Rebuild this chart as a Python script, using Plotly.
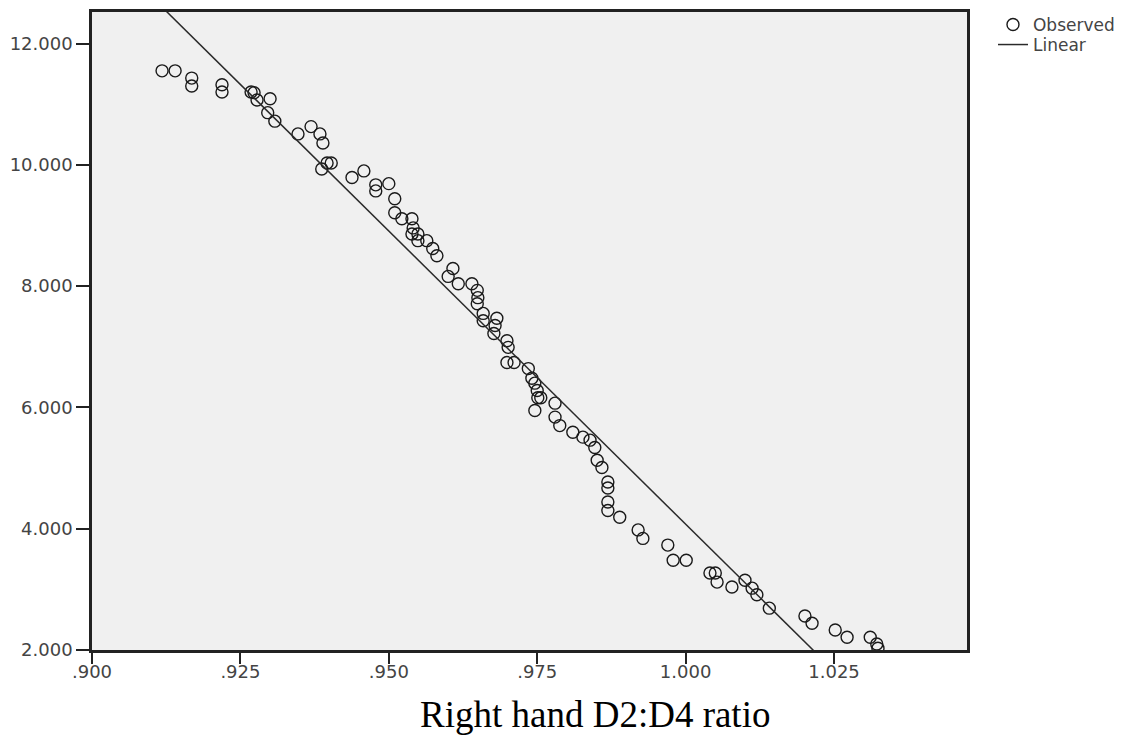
import plotly.graph_objects as go

# Observed points (Right hand D2:D4 ratio, response)
ratio = [0.9118, 0.9140, 0.9168, 0.9168, 0.9219, 0.9219, 0.9268, 0.9273, 0.9278, 0.9300,
         0.9296, 0.9308, 0.9347, 0.9369, 0.9384, 0.9389, 0.9396, 0.9387, 0.9403, 0.9438,
         0.9458, 0.9478, 0.9478, 0.9500, 0.9510, 0.9510, 0.9522, 0.9539, 0.9541, 0.9539,
         0.9549, 0.9549, 0.9564, 0.9574, 0.9581, 0.9608, 0.9600, 0.9617, 0.9640, 0.9649,
         0.9650, 0.9649, 0.9659, 0.9659, 0.9682, 0.9679, 0.9677, 0.9699, 0.9701, 0.9699,
         0.9711, 0.9735, 0.9741, 0.9746, 0.9750, 0.9751, 0.9746, 0.9756, 0.9780, 0.9780,
         0.9788, 0.9810, 0.9827, 0.9839, 0.9847, 0.9851, 0.9859, 0.9869, 0.9869, 0.9869,
         0.9869, 0.9889, 0.9920, 0.9928, 0.9970, 0.9979, 1.0001, 1.0041, 1.0050, 1.0053,
         1.0078, 1.0100, 1.0112, 1.0120, 1.0141, 1.0201, 1.0213, 1.0252, 1.0272, 1.0311,
         1.0322, 1.0324]
observed = [11.55, 11.55, 11.43, 11.30, 11.32, 11.20, 11.20, 11.19, 11.07, 11.09,
            10.86, 10.72, 10.51, 10.63, 10.51, 10.36, 10.03, 9.93, 10.03, 9.79,
            9.90, 9.67, 9.57, 9.69, 9.44, 9.21, 9.11, 9.11, 8.96, 8.86,
            8.86, 8.75, 8.75, 8.62, 8.50, 8.29, 8.16, 8.04, 8.04, 7.93,
            7.81, 7.71, 7.55, 7.43, 7.47, 7.35, 7.22, 7.10, 6.99, 6.74,
            6.74, 6.64, 6.48, 6.40, 6.28, 6.16, 5.95, 6.16, 6.07, 5.84,
            5.70, 5.59, 5.51, 5.46, 5.34, 5.13, 5.01, 4.77, 4.67, 4.44,
            4.30, 4.19, 3.98, 3.84, 3.73, 3.48, 3.48, 3.27, 3.27, 3.12,
            3.04, 3.15, 3.02, 2.91, 2.69, 2.56, 2.44, 2.33, 2.21, 2.21,
            2.10, 2.03]

# Linear fit (intercept, slope) as shown
lin_intercept = 100.745
lin_slope = -96.67
line_x = [0.900, 1.050]

x_tickvals = [0.900, 0.925, 0.950, 0.975, 1.000, 1.025]
x_ticktext = [".900", ".925", ".950", ".975", "1.000", "1.025"]
y_tickvals = [2, 4, 6, 8, 10, 12]
y_ticktext = ["2.000", "4.000", "6.000", "8.000", "10.000", "12.000"]
x_title = "Right hand D2:D4 ratio"

line_y = [lin_intercept + lin_slope * v for v in line_x]

fig = go.Figure()
fig.add_trace(go.Scatter(
    x=ratio, y=observed, mode="markers", name="Observed", legend="legend",
    marker=dict(symbol="circle-open", size=12, color="#1a1a1a", line=dict(width=1.4, color="#1a1a1a")),
))
fig.add_trace(go.Scatter(
    x=line_x, y=line_y, mode="lines", name="Linear", legend="legend2",
    line=dict(color="#2a2a2a", width=1.5),
))

leg_font = dict(family="DejaVu Sans, sans-serif", size=17, color="#444444")
fig.update_layout(
    width=1142, height=738,
    margin=dict(l=92, r=175, t=12, b=88, autoexpand=False),
    paper_bgcolor="white", plot_bgcolor="#f0f0f0",
    font=dict(family="DejaVu Sans, sans-serif", size=18, color="#444444"),
    showlegend=True,
    legend=dict(x=1.0297, y=1.008, xanchor="left", yanchor="top", yref="paper",
                font=leg_font, bgcolor="rgba(0,0,0,0)", borderwidth=0,
                tracegroupgap=0, itemwidth=30),
    legend2=dict(x=1.0297, y=0.9765, xanchor="left", yanchor="top", yref="paper",
                 font=leg_font, bgcolor="rgba(0,0,0,0)", borderwidth=0,
                 tracegroupgap=0, itemwidth=30),
    annotations=[dict(text=x_title, xref="paper", yref="paper", x=0.575, y=0,
                      xanchor="center", yanchor="bottom", yshift=-87, showarrow=False,
                      font=dict(family="Liberation Serif, Times New Roman, serif", size=37, color="black"))],
)
fig.update_xaxes(
    range=[0.9, 1.0474], tickvals=x_tickvals, ticktext=x_ticktext,
    showgrid=False, zeroline=False, showline=True, mirror=True,
    linecolor="#222222", linewidth=2.5, ticks="outside", ticklen=11, tickwidth=2,
    tickcolor="#222222", tickfont=dict(size=18, color="#444444"),
    ticklabelstandoff=-7,
)
fig.update_yaxes(
    range=[2.0, 12.52], tickvals=y_tickvals, ticktext=y_ticktext,
    showgrid=False, zeroline=False, showline=True, mirror=True,
    linecolor="#222222", linewidth=2.5, ticks="outside", ticklen=13, tickwidth=2,
    tickcolor="#222222", tickfont=dict(size=18, color="#444444"),
)

fig.write_html("out.html")
